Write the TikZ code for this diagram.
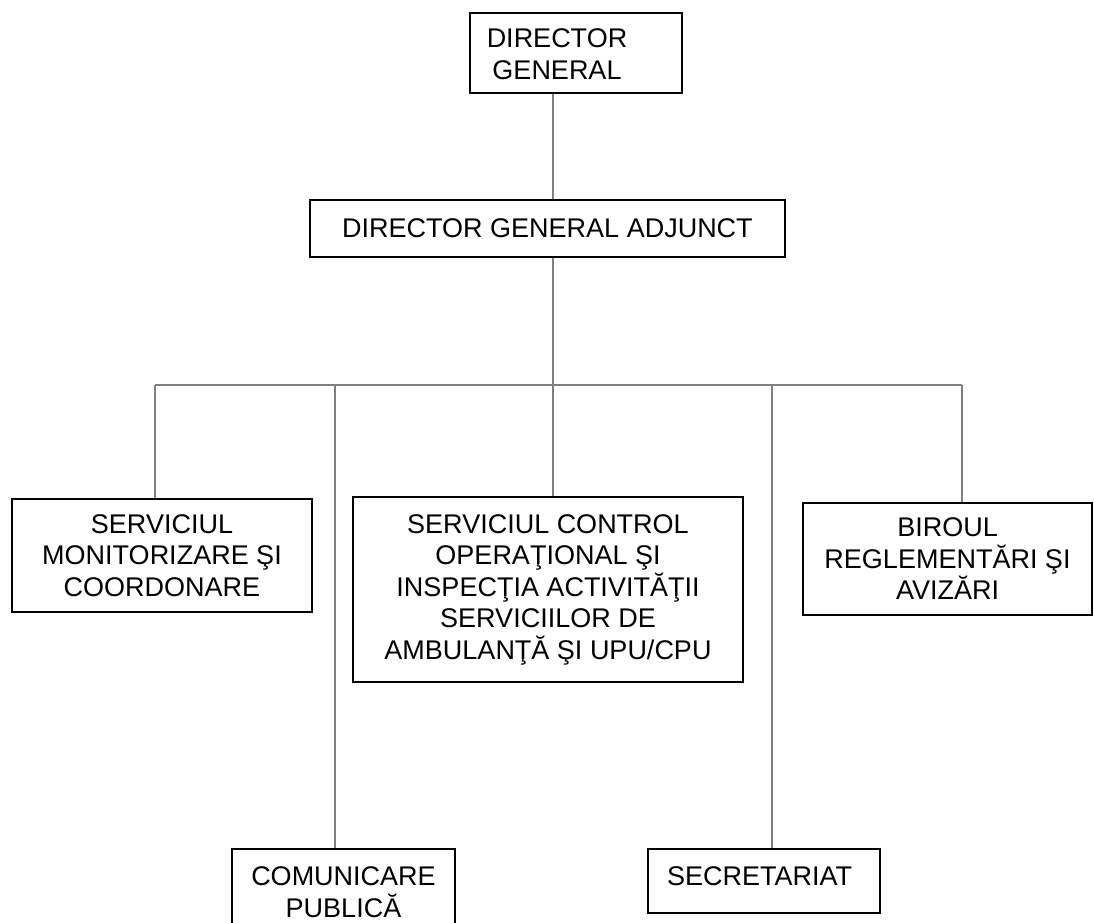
\documentclass[tikz,border=0pt]{standalone}
\usepackage{fontspec}
\setmainfont{Liberation Sans}
\usetikzlibrary{calc}

\begin{document}
\begin{tikzpicture}[
    x = 1pt, y = -1pt,
    font = \fontsize{27}{31.5}\selectfont,
    box/.style = {draw, line width=1.6pt, inner sep=0pt, align=center},
    link/.style = {draw=gray, line width=1.5pt}
  ]
  \useasboundingbox (0,0) rectangle (1094,922);

  \node[box, minimum width=212pt, minimum height=80pt] (dg) at (576,53) {};
  \node[align=center] (dgtxt) at (557,54) {DIRECTOR\\GENERAL};
  \node[box, minimum width=475pt, minimum height=57pt] (dga) at (547.5,228.5) {DIRECTOR GENERAL ADJUNCT};

  \node[box, minimum width=300pt, minimum height=113pt] (smc) at (162,555.5)
    {SERVICIUL\\MONITORIZARE ŞI\\COORDONARE};
  \node[box, minimum width=390pt, minimum height=185pt] (sco) at (548,589.5)
    {SERVICIUL CONTROL\\OPERAŢIONAL ŞI\\INSPECŢIA ACTIVITĂŢII\\SERVICIILOR DE\\AMBULANŢĂ ŞI UPU/CPU};
  \node[box, minimum width=289pt, minimum height=112pt] (brg) at (947.5,559)
    {BIROUL\\REGLEMENTĂRI ŞI\\AVIZĂRI};
  \node[box, minimum width=223pt, minimum height=86pt] (cp) at (343.5,892)
    {COMUNICARE\\PUBLICĂ};
  \node[box, minimum width=232pt, minimum height=64pt] (sec) at (764,881) {};
  \node[anchor=base west, inner sep=0pt] (sectxt) at (667,885) {SECRETARIAT};

  \coordinate (b1) at (155,385);
  \coordinate (b2) at (335,385);
  \coordinate (b3) at (553,385);
  \coordinate (b4) at (772,385);
  \coordinate (b5) at (962,385);

  \draw[link] (b3 |- dg.south) -- (b3 |- dga.north);
  \draw[link] (b3 |- dga.south) -- (b3);
  \draw[link] (b1) -- (b5);
  \draw[link] (b1) -- (b1 |- smc.north);
  \draw[link] (b2) -- (b2 |- cp.north);
  \draw[link] (b3) -- (b3 |- sco.north);
  \draw[link] (b4) -- (b4 |- sec.north);
  \draw[link] (b5) -- (b5 |- brg.north);
\end{tikzpicture}
\end{document}
